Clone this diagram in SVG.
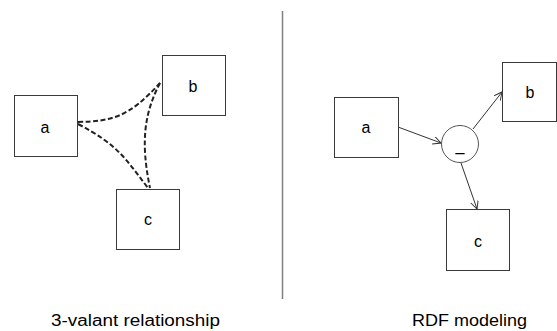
<svg xmlns="http://www.w3.org/2000/svg" width="557" height="331" viewBox="0 0 557 331">
<defs>
<style>
.box{fill:#fff;stroke:#3a3a3a;stroke-width:1}
.lbl{font-family:"Liberation Sans",Arial,sans-serif;font-size:16px;fill:#000;text-anchor:middle}
.dash{fill:none;stroke:#222;stroke-width:2;stroke-dasharray:5,2.5}
.arr{fill:none;stroke:#333;stroke-width:1;marker-end:url(#ah)}
.cap{font-family:"Liberation Sans",Arial,sans-serif;font-size:16px;fill:#000}
</style>
<marker id="ah" markerWidth="10" markerHeight="10" refX="8" refY="4" orient="auto" markerUnits="userSpaceOnUse">
<path d="M0,0 L8,4 L0,8" fill="none" stroke="#333" stroke-width="1"/>
</marker>
</defs>
<line x1="282.5" y1="11" x2="282.5" y2="299" stroke="#808080" stroke-width="1.5"/>
<g id="connectors">
<path class="dash" d="M78,122 C112,121 128,118 160,83"/>
<path class="dash" d="M78,124 C118,145 125,158 148,188"/>
<path class="dash" d="M160,83 C145,112 140,140 150,188"/>
<path class="arr" d="M398,127 L441,143"/>
<path class="arr" d="M473,129 L502,92"/>
<path class="arr" d="M461,163 L477,209"/>
</g>
<g id="left-a"><rect class="box" x="14.5" y="95.5" width="63" height="61"/><text class="lbl" x="45" y="133">a</text></g>
<g id="left-b"><rect class="box" x="162.5" y="55.5" width="63" height="60"/><text class="lbl" x="193" y="92">b</text></g>
<g id="left-c"><rect class="box" x="116.5" y="189.5" width="63" height="60"/><text class="lbl" x="148" y="225">c</text></g>
<g id="right-a"><rect class="box" x="334.5" y="97.5" width="64" height="60"/><text class="lbl" x="366" y="133">a</text></g>
<g id="right-b"><rect class="box" x="502.5" y="62.5" width="54" height="59"/><text class="lbl" x="530" y="98">b</text></g>
<g id="right-c"><rect class="box" x="446.5" y="209.5" width="63" height="61"/><text class="lbl" x="478" y="247">c</text></g>
<g id="right-blank"><circle cx="460" cy="144" r="18.5" fill="#fff" stroke="#555" stroke-width="1"/><text class="lbl" x="460" y="151">_</text></g>
<text class="cap" x="51" y="326" textLength="169" lengthAdjust="spacingAndGlyphs">3-valant relationship</text>
<text class="cap" x="412" y="326" textLength="115" lengthAdjust="spacingAndGlyphs">RDF modeling</text>
</svg>
